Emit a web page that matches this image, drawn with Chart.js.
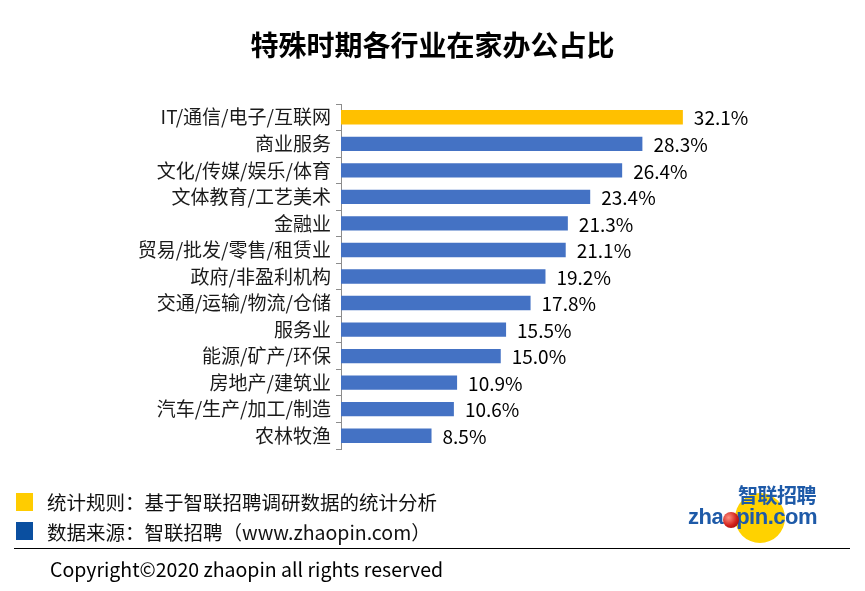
<!DOCTYPE html>
<html>
<head>
<meta charset="utf-8">
<script src="https://cdn.jsdelivr.net/npm/chart.js@4/dist/chart.umd.min.js"></script>
<style>
  body { margin: 0; background: #fff; font-family: "Noto Sans CJK SC", "Noto Sans", sans-serif; }
  #wrap { position: relative; width: 865px; height: 591px; overflow: hidden; }
  #chartBox { position: absolute; left: 0; top: 0; width: 865px; height: 591px; }
  .title { position: absolute; left: 0; width: 865px; top: 24px; text-align: center; font-size: 28px; font-weight: bold; color: #000; line-height: 40px; }
  .note { position: absolute; left: 47px; font-size: 19.5px; color: #111; line-height: 26px; }
  .sq { position: absolute; left: 16px; width: 17px; height: 18px; }
  .rule { position: absolute; left: 14px; width: 836px; top: 548px; height: 1px; background: #000; }
  .copy { position: absolute; left: 50px; top: 555px; font-size: 19.5px; color: #000; line-height: 28px; }
  .logo { position: absolute; left: 686px; top: 484px; width: 135px; height: 50px; }
  .logo .sun { position: absolute; left: 49px; top: 9px; width: 50px; height: 50px; border-radius: 50%; background: #ffd200; }
  .logo .cn { position: absolute; left: 52px; top: -1px; font-size: 20px; font-weight: bold; color: #1e5aa8; line-height: 24px; letter-spacing: -0.5px; }
  .logo .en { position: absolute; left: 2px; top: 19px; font-family: "Liberation Sans", sans-serif; font-size: 22px; font-weight: bold; color: #1e5aa8; line-height: 28px; letter-spacing: -0.5px; }
  .logo .ball { position: absolute; left: 37px; top: 28px; width: 16px; height: 16px; border-radius: 50%; background: radial-gradient(circle at 35% 35%, #ff9080, #d0201a 55%, #8a0000); }
</style>
</head>
<body>
<div id="wrap">
  <div id="chartBox"><canvas id="myChart"></canvas></div>
  <div class="title">特殊时期各行业在家办公占比</div>
  <div class="sq" style="top:493px;background:#ffcc00"></div>
  <div class="note" style="top:489px">统计规则：基于智联招聘调研数据的统计分析</div>
  <div class="sq" style="top:522px;background:#0a4fa0"></div>
  <div class="note" style="top:519px">数据来源：智联招聘（www.zhaopin.com）</div>
  <div class="rule"></div>
  <div class="copy">Copyright©2020 zhaopin all rights reserved</div>
  <div class="logo">
    <div class="sun"></div>
    <div class="cn">智联招聘</div>
    <div class="en">zha<span style="color:transparent">o</span>pin.com</div>
    <div class="ball"></div>
  </div>
</div>
<script>
const industries = ['IT/通信/电子/互联网', '商业服务', '文化/传媒/娱乐/体育', '文体教育/工艺美术', '金融业',
  '贸易/批发/零售/租赁业', '政府/非盈利机构', '交通/运输/物流/仓储', '服务业', '能源/矿产/环保',
  '房地产/建筑业', '汽车/生产/加工/制造', '农林牧渔'];
const shares = [32.1, 28.3, 26.4, 23.4, 21.3, 21.1, 19.2, 17.8, 15.5, 15.0, 10.9, 10.6, 8.5];

const barColors = shares.map((v, i) => i === 0 ? '#ffc000' : '#4472c4');

const valueLabels = {
  id: 'valueLabels',
  afterDatasetsDraw(chart) {
    const c = chart.ctx;
    c.save();
    c.font = '19px "Noto Sans CJK SC", "Noto Sans", sans-serif';
    c.fillStyle = '#000';
    c.textBaseline = 'middle';
    chart.getDatasetMeta(0).data.forEach((bar, i) => {
      c.fillText(shares[i].toFixed(1) + '%', bar.x + 11, bar.y + 1);
    });
    c.restore();
  }
};

const ctx = document.getElementById('myChart');
new Chart(ctx, {
  type: 'bar',
  data: {
    labels: industries,
    datasets: [{
      data: shares,
      backgroundColor: barColors,
      barPercentage: 0.54,
      categoryPercentage: 1
    }]
  },
  options: {
    indexAxis: 'y',
    responsive: true,
    maintainAspectRatio: false,
    animation: false,
    layout: { padding: { left: 0, right: 98, top: 104, bottom: 142 } },
    plugins: { legend: { display: false }, tooltip: { enabled: false } },
    scales: {
      x: { display: false, min: 0, max: 40 },
      y: {
        afterFit(scale) { scale.width = 341; },
        grid: { offset: true, drawOnChartArea: false, tickLength: 5, color: '#8c8c8c' },
        border: { color: '#8c8c8c' },
        ticks: {
          padding: 5,
          color: '#1a1a1a',
          font: { size: 19, family: '"Noto Sans CJK SC", "Noto Sans", sans-serif' }
        }
      }
    }
  },
  plugins: [valueLabels]
});
</script>
</body>
</html>
